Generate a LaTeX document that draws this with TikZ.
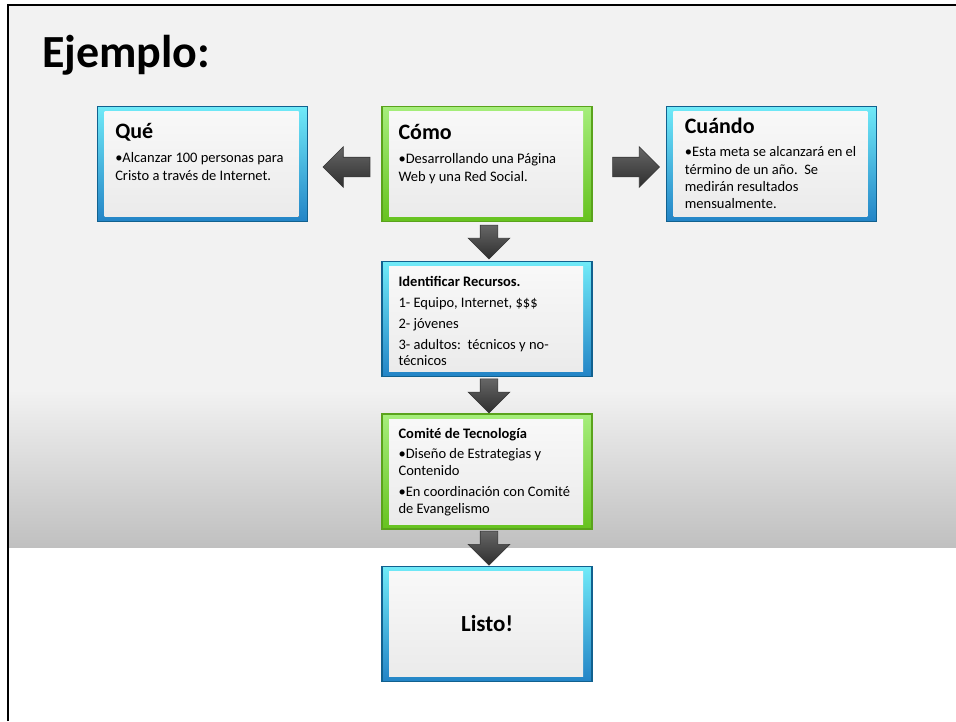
\documentclass[tikz,border=0pt]{standalone}
\usepackage{fontspec}
\setmainfont{Carlito}
\usepackage{tikz}
\usetikzlibrary{shapes,arrows,positioning,calc}
\definecolor{bgcol}{HTML}{F2F2F2}
\definecolor{bgdark}{HTML}{C0C0C0}
\definecolor{bluetop}{HTML}{70EAF8}
\definecolor{bluebot}{HTML}{2384C6}
\definecolor{blueedge}{HTML}{11618F}
\definecolor{greentop}{HTML}{A6EE7C}
\definecolor{greenbot}{HTML}{66C21F}
\definecolor{greenedge}{HTML}{5AA31C}
\definecolor{paneltop}{HTML}{F9F9F9}
\definecolor{panelbot}{HTML}{EAEAEA}
\tikzset{
  box/.style = {rectangle, inner sep=0pt, minimum width=210pt, minimum height=115pt, line width=1.3pt,
    path picture={\fill[top color=paneltop, bottom color=panelbot]
      ([xshift=7pt,yshift=-5pt]path picture bounding box.north west) rectangle
      ([xshift=-9pt,yshift=5pt]path picture bounding box.south east);}},
  box_b/.style = {box, draw=blueedge, top color=bluetop, bottom color=bluebot},
  box_g/.style = {box, draw=greenedge, top color=greentop, bottom color=greenbot},
  arr/.style = {single arrow, single arrow tip angle=90, draw=black!78, line width=0.6pt,
    top color=black!60, bottom color=black!82},
  arr_h/.style = {arr, inner sep=9.5pt, minimum height=47pt, single arrow head extend=10.5pt},
  arr_v/.style = {arr, inner sep=8.5pt, minimum height=34pt, single arrow head extend=12pt, shape border rotate=270},
  ttl/.style = {anchor=base west, inner sep=0pt, font=\fontsize{22}{26}\selectfont\bfseries},
  txt/.style = {anchor=base west, inner sep=0pt, align=flush left, text width=200pt,
    execute at begin node={\spaceskip=0pt\xspaceskip=0pt}, font=\fontsize{14.5}{18}\selectfont}
}
\begin{document}
\begin{tikzpicture}[x=1pt,y=-1pt]
  \useasboundingbox (0,0) rectangle (956,721);
  \fill[bgcol] (9,5) rectangle (956,390);
  \shade[top color=bgcol, bottom color=bgdark] (9,390) rectangle (956,547);
  \draw[line width=2.5pt] (8,721) -- (8,5) -- (956,5);

  \node[anchor=base west, inner sep=0pt, font=\fontsize{46}{52}\selectfont\bfseries] (titulo) at (42,67) {Ejemplo:};

  \node[box_g] (como) at (487,164) {};
  \node[box_b, left=73pt of como] (que) {};
  \node[box_b, right=73pt of como] (cuando) {};
  \node[box_b, below=39pt of como] (recursos) {};
  \node[box_g, below=36pt of recursos] (comite) {};
  \node[box_b, below=36pt of comite] (listo) {\fontsize{23}{28}\selectfont\bfseries Listo!};

  \node[ttl] (que_t) at ([xshift=18pt,yshift=-33pt]que.north west) {Qué};
  \node[txt] (que_b) at ([xshift=18pt,yshift=-57pt]que.north west)
    {•Alcanzar 100 personas para\\ Cristo a través de Internet.};
  \node[ttl] (como_t) at ([xshift=17pt,yshift=-34pt]como.north west) {Cómo};
  \node[txt, font=\fontsize{14.5}{17.5}\selectfont] (como_b) at ([xshift=17pt,yshift=-58pt]como.north west)
    {•Desarrollando una Página\\ Web y una Red Social.};
  \node[ttl] (cuando_t) at ([xshift=19pt,yshift=-28pt]cuando.north west) {Cuándo};
  \node[txt, font=\fontsize{14.5}{17.3}\selectfont] (cuando_b) at ([xshift=19pt,yshift=-51pt]cuando.north west)
    {•Esta meta se alcanzará en el\\ término de un año.\ \ Se\\ medirán resultados\\ mensualmente.};

  \node[ttl, font=\fontsize{14.5}{16}\selectfont\bfseries] (recursos_t) at ([xshift=17pt,yshift=-25pt]recursos.north west)
    {Identificar Recursos.};
  \node[txt, font=\fontsize{14.5}{16}\selectfont] (recursos_b) at ([xshift=17pt,yshift=-46pt]recursos.north west)
    {1- Equipo, Internet, \$\$\$\\[5pt] 2- jóvenes\\[5pt] 3- adultos:\ \ técnicos y no-\\ técnicos};
  \node[ttl, font=\fontsize{14.5}{16}\selectfont\bfseries] (comite_t) at ([xshift=17pt,yshift=-25pt]comite.north west)
    {Comité de Tecnología};
  \node[txt, font=\fontsize{14.5}{17.5}\selectfont] (comite_b) at ([xshift=17pt,yshift=-45pt]comite.north west)
    {•Diseño de Estrategias y\\ Contenido\\[3pt] •En coordinación con Comité\\ de Evangelismo};

  \node[arr_h, shape border rotate=180] (a_que) at ($(que.east)!.5!(como.west)+(6.5,3)$) {};
  \node[arr_h] (a_cuando) at ($(como.east)!.5!(cuando.west)+(2,3)$) {};
  \node[arr_v] (a_recursos) at ($(como.south)!.5!(recursos.north)+(2,-4)$) {};
  \node[arr_v] (a_comite) at ($(recursos.south)!.5!(comite.north)+(2,-4)$) {};
  \node[arr_v] (a_listo) at ($(comite.south)!.5!(listo.north)+(2,-4)$) {};
\end{tikzpicture}
\end{document}
